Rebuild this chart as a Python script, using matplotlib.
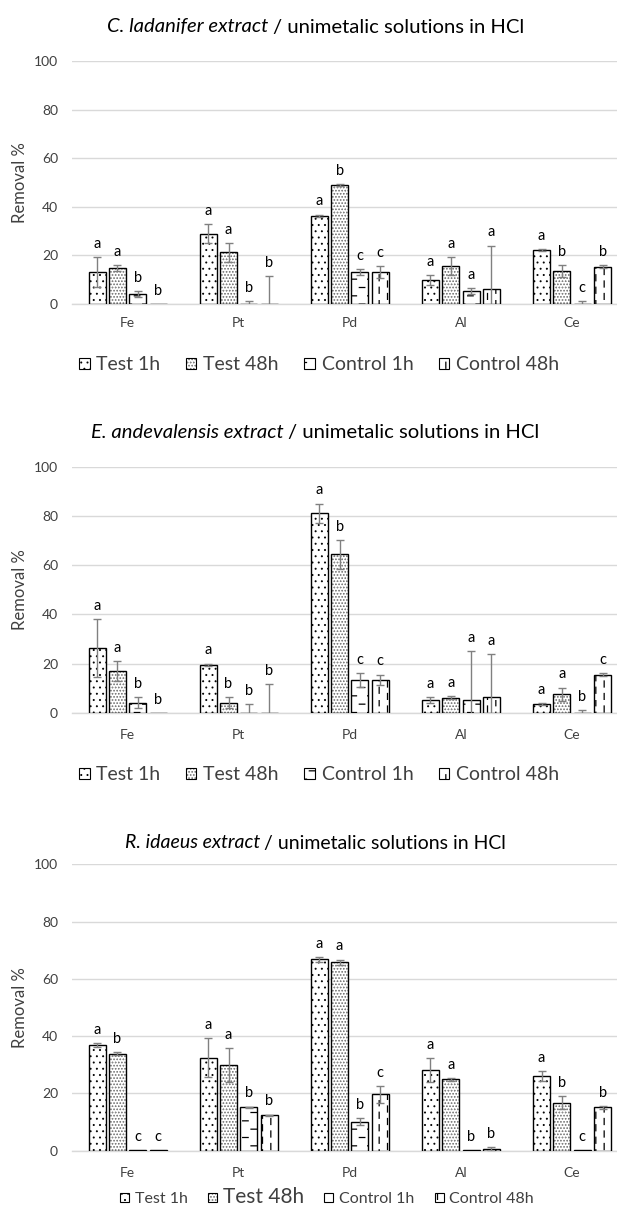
import warnings
warnings.filterwarnings('ignore')
import numpy as np
import matplotlib
matplotlib.use('Agg')
import matplotlib.pyplot as plt
import matplotlib.hatch as mhatch
from matplotlib.path import Path
from matplotlib.patches import Patch

# ---------------- data ----------------
metals = ['Fe', 'Pt', 'Pd', 'Al', 'Ce']
series = ['Test 1h', 'Test 48h', 'Control 1h', 'Control 48h']
yticks = [0, 20, 40, 60, 80, 100]

# C. ladanifer
lad_test1h = [13.3, 29.0, 36.4, 9.9, 22.3]
lad_test48h = [14.9, 21.2, 48.9, 15.6, 13.5]
lad_ctrl1h = [4.1, 0.0, 13.2, 5.2, 0.0]
lad_ctrl48h = [0.0, 0.0, 13.2, 6.3, 15.4]
lad_test1h_err = [6.1, 4.0, 0.4, 2.0, 0.3]
lad_test48h_err = [1.2, 4.0, 0.3, 3.7, 2.5]
lad_ctrl1h_err = [1.3, 1.1, 1.3, 1.2, 1.1]
lad_ctrl48h_err = [0.0, 11.4, 2.3, 17.7, 0.6]
lad_letters = ['aabb', 'aabb', 'abcc', 'aaaa', 'abcb']

# E. andevalensis
and_test1h = [26.3, 19.5, 81.1, 5.2, 3.5]
and_test48h = [17.1, 4.1, 64.4, 6.1, 7.5]
and_ctrl1h = [4.1, 0.0, 13.3, 5.2, 0.0]
and_ctrl48h = [0.0, 0.0, 13.3, 6.5, 15.4]
and_test1h_err = [11.8, 0.5, 4.0, 1.1, 0.4]
and_test48h_err = [4.0, 2.2, 5.8, 0.5, 2.7]
and_ctrl1h_err = [2.2, 3.4, 2.7, 20.0, 1.1]
and_ctrl48h_err = [0.0, 11.6, 2.2, 17.5, 0.6]
and_letters = ['aabb', 'abbb', 'abcc', 'aaaa', 'aabc']

# R. idaeus
ida_test1h = [36.9, 32.5, 66.8, 28.2, 26.1]
ida_test48h = [33.9, 29.9, 65.8, 24.9, 16.8]
ida_ctrl1h = [0.3, 15.1, 10.1, 0.3, 0.2]
ida_ctrl48h = [0.3, 12.3, 19.7, 0.5, 15.1]
ida_test1h_err = [0.6, 6.7, 0.9, 4.2, 1.8]
ida_test48h_err = [0.5, 5.8, 0.9, 0.4, 2.4]
ida_ctrl1h_err = [0.0, 0.3, 1.2, 0.0, 0.0]
ida_ctrl48h_err = [0.0, 0.3, 2.9, 0.8, 0.6]
ida_letters = ['abcc', 'aabb', 'aabc', 'aabb', 'abcb']

titles = [('C. ladanifer extract', '/ unimetalic solutions in HCl'),
          ('E. andevalensis extract', '/ unimetalic solutions in HCl'),
          ('R. idaeus extract', '/ unimetalic solutions in HCl')]


# ---------------- custom hatches ----------------
def _dot(x, y, r):
    ang = np.linspace(0, 2 * np.pi, 9)[:-1]
    v = np.column_stack([x + r * np.cos(ang), y + r * np.sin(ang)])
    v = np.vstack([v, v[:1]])
    c = [Path.MOVETO] + [Path.LINETO] * 7 + [Path.CLOSEPOLY]
    return v, np.array(c, dtype=Path.code_type)


def _seg(x0, y0, x1, y1):
    return (np.array([[x0, y0], [x1, y1]]),
            np.array([Path.MOVETO, Path.LINETO], dtype=Path.code_type))


def _dots(n, r):
    out = []
    for row in range(n + 1):
        y = row / n
        if row % 2 == 0:
            xs = [c / n for c in range(n + 1)]
        else:
            xs = [(c + 0.5) / n for c in range(n)]
        for x in xs:
            out.append(_dot(x, y, r))
    return out


def _hdash():
    out = []
    nr, nc, L = 12, 6, 0.055
    for r in range(nr):
        y = (r + 0.5) / nr
        off = 0.0 if r % 2 == 0 else 0.5 / nc
        for c in range(nc):
            x = c / nc + off + 0.01
            out.append(_seg(x, y, min(x + L, 0.999), y))
    return out


def _vdash():
    out = []
    nc, nr, L = 12, 8, 0.06
    for c in range(nc):
        x = (c + 0.5) / nc
        off = 0.0 if c % 2 == 0 else 0.5 / nr
        for r in range(nr):
            y = r / nr + off + 0.005
            out.append(_seg(x, y, x, min(y + L, 0.999)))
    return out


_BUILDERS = {'p': lambda: _dots(16, 0.004),
             'q': lambda: _dots(32, 0.0015),
             'h': _hdash,
             'v': _vdash}


class CustomHatch(mhatch.HatchPatternBase):
    def __init__(self, hatch, density):
        self.parts = []
        if hatch:
            for ch, b in _BUILDERS.items():
                if ch in hatch:
                    self.parts.extend(b())
        self.num_vertices = int(sum(len(v) for v, c in self.parts))

    def set_vertices_and_codes(self, vertices, codes):
        i = 0
        for v, c in self.parts:
            n = len(v)
            vertices[i:i + n] = v
            codes[i:i + n] = c
            i += n


mhatch._hatch_types.append(CustomHatch)
hatches = ['p', 'q', 'h', 'v']

# ---------------- styling ----------------
plt.rcParams['font.family'] = ['Lato', 'DejaVu Sans']
plt.rcParams['hatch.linewidth'] = 0.9
plt.rcParams['hatch.color'] = 'black'

W, H = 617, 1205
fig = plt.figure(figsize=(W / 100, H / 100), dpi=100)

TXT = '#404040'
GRID = '#d9d9d9'

panels = [
    ([lad_test1h, lad_test48h, lad_ctrl1h, lad_ctrl48h],
     [lad_test1h_err, lad_test48h_err, lad_ctrl1h_err, lad_ctrl48h_err],
     lad_letters),
    ([and_test1h, and_test48h, and_ctrl1h, and_ctrl48h],
     [and_test1h_err, and_test48h_err, and_ctrl1h_err, and_ctrl48h_err],
     and_letters),
    ([ida_test1h, ida_test48h, ida_ctrl1h, ida_ctrl48h],
     [ida_test1h_err, ida_test48h_err, ida_ctrl1h_err, ida_ctrl48h_err],
     ida_letters),
]

# pixel layout
layout = [
    dict(top=61, bottom=304, title_y=27, title_fs=14.6, leg=(319, 365), xpad=9.5),
    dict(top=467, bottom=712.7, title_y=432, title_fs=14.6, leg=(319, 775), xpad=12),
    dict(top=864.3, bottom=1150.7, title_y=843, title_fs=14.0, leg=(327, 1197), xpad=12),
]
ax_left, ax_right = 72, 617
pitch, bw = 0.183, 0.153

renderer = fig.canvas.get_renderer()

for p, ((vals, errs, letters), lay) in enumerate(zip(panels, layout)):
    ax = fig.add_axes([ax_left / W, 1 - lay['bottom'] / H,
                       (ax_right - ax_left) / W, (lay['bottom'] - lay['top']) / H])
    x = np.arange(len(metals))
    for j in range(4):
        xs = x + (j - 1.5) * pitch
        ax.bar(xs, vals[j], width=bw, facecolor='white', edgecolor='black',
               linewidth=1.0, hatch=hatches[j], zorder=2)
        e = np.array(errs[j])
        m = e > 0
        ax.errorbar(xs[m], np.array(vals[j])[m], yerr=e[m], fmt='none',
                    ecolor='#808080', elinewidth=1.0, capsize=3.2, capthick=1.0,
                    zorder=3)
        for i in range(len(metals)):
            ax.annotate(letters[i][j], (xs[i], vals[j][i] + errs[j][i]),
                        xytext=(0, 9.5), textcoords='offset points',
                        ha='center', va='center', fontsize=10.5, color='black',
                        annotation_clip=False, zorder=4)
    ax.set_ylim(0, 100)
    ax.set_xlim(-0.5, (ax_right - ax_left) / ((573.5 - 129) / 4) - 0.5)
    ax.set_yticks(yticks)
    ax.set_xticks(x)
    ax.set_xticklabels(metals)
    ax.tick_params(axis='both', length=0, labelsize=10, labelcolor=TXT)
    ax.tick_params(axis='y', pad=10)
    ax.tick_params(axis='x', pad=lay['xpad'])
    ax.grid(axis='y', color=GRID, linewidth=1.0)
    ax.set_axisbelow(True)
    for s in ['top', 'right', 'left']:
        ax.spines[s].set_visible(False)
    ax.spines['bottom'].set_color(GRID)
    ax.spines['bottom'].set_linewidth(1.0)
    ax.spines['bottom'].set_zorder(1)

    # y label
    fig.text(20 / W, 1 - (lay['top'] + lay['bottom']) / 2 / H, 'Removal %',
             rotation=90, ha='center', va='center', fontsize=12, color=TXT)

    # title (italic + regular)
    it, rg = titles[p]
    ty = 1 - lay['title_y'] / H
    t1 = fig.text(0, ty, it, style='italic', fontsize=lay['title_fs'],
                  ha='left', va='center', color='black')
    t2 = fig.text(0, ty, rg, fontsize=lay['title_fs'], ha='left', va='center',
                  color='black')
    w1 = t1.get_window_extent(renderer).width
    w2 = t2.get_window_extent(renderer).width
    gap = 4.5
    x0 = 315.5 - (w1 + gap + w2) / 2
    t1.set_x(x0 / W)
    t2.set_x((x0 + w1 + gap) / W)

    # legend
    handles = [Patch(facecolor='white', edgecolor='black', linewidth=0.8,
                     hatch=h) for h in hatches]
    fs = 14 if p < 2 else 11.5
    leg = fig.legend(handles, series, loc='center',
                     bbox_to_anchor=(lay['leg'][0] / W, 1 - lay['leg'][1] / H),
                     ncol=4, frameon=False, fontsize=fs,
                     handlelength=0.55, handleheight=0.55,
                     handletextpad=0.35, columnspacing=1.3,
                     borderaxespad=0, borderpad=0)
    for t in leg.get_texts():
        t.set_color(TXT)
    if p == 2:
        leg.get_texts()[1].set_fontsize(15)

fig.savefig('out.png', dpi=100)
